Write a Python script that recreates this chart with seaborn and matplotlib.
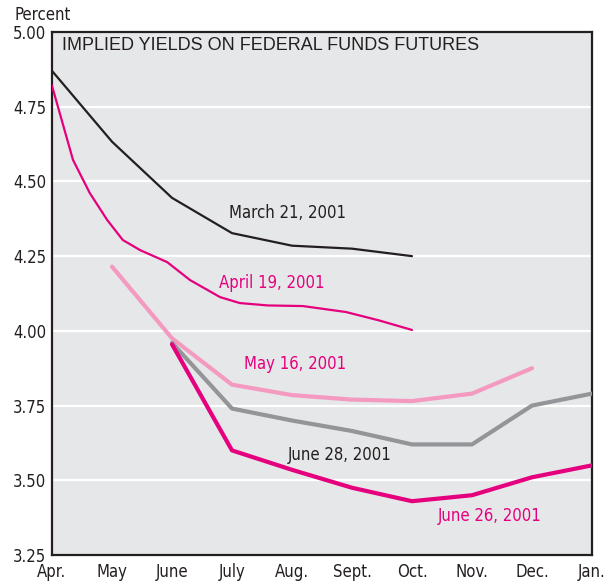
import numpy as np
import pandas as pd
import matplotlib
matplotlib.use("Agg")
import matplotlib.pyplot as plt
import seaborn as sns

months = ["Apr.", "May", "June", "July", "Aug.", "Sept.", "Oct.", "Nov.", "Dec.", "Jan."]

mar21 = [4.87, 4.633, 4.445, 4.327, 4.285, 4.275, 4.25]

# April 19 curve is drawn smooth in the source
apr19_x = [0.0, 0.35, 0.63, 0.92, 1.18, 1.47, 1.92, 2.3, 2.8, 3.13, 3.6, 4.18, 4.9, 5.45, 6.0]
apr19 = [4.82, 4.572, 4.461, 4.371, 4.304, 4.27, 4.23, 4.17, 4.113, 4.093, 4.085, 4.083, 4.063, 4.035, 4.003]

may16 = [4.215, 3.975, 3.82, 3.785, 3.77, 3.765, 3.79, 3.875]
jun28 = [3.96, 3.74, 3.70, 3.665, 3.62, 3.62, 3.75, 3.79]
jun26 = [3.955, 3.60, 3.535, 3.475, 3.43, 3.45, 3.51, 3.55]

series = [
    ("March 21, 2001", np.arange(len(mar21)), mar21, "#231f20", 1.6),
    ("April 19, 2001", apr19_x, apr19, "#e5007e", 1.6),
    ("May 16, 2001", np.arange(1, 1 + len(may16)), may16, "#f49ac1", 3.0),
    ("June 28, 2001", np.arange(2, 2 + len(jun28)), jun28, "#939598", 3.0),
    ("June 26, 2001", np.arange(2, 2 + len(jun26)), jun26, "#e5007e", 3.0),
]

# label placement (x in month index, y in percent)
label_pos = {
    "March 21, 2001": (3.93, 4.395, "#231f20"),
    "April 19, 2001": (3.67, 4.16, "#e5007e"),
    "May 16, 2001": (4.05, 3.89, "#e5007e"),
    "June 28, 2001": (4.8, 3.585, "#231f20"),
    "June 26, 2001": (7.3, 3.38, "#e5007e"),
}

sns.set_style("white")
plt.rcParams["font.family"] = ["DejaVu Sans"]
plt.rcParams["font.stretch"] = "condensed"

fig = plt.figure(figsize=(6.11, 5.82), dpi=100)
ax = fig.add_axes([52 / 611, 27 / 582, 540 / 611, 523 / 582])
ax.set_facecolor("#e6e7e8")

for name, xs, vals, color, lw in series:
    df = pd.DataFrame({"x": xs, "y": vals})
    sns.lineplot(data=df, x="x", y="y", ax=ax, color=color, lw=lw, zorder=3, sort=False)

for name, (lx, ly, c) in label_pos.items():
    ax.text(lx, ly, name, color=c, fontsize=12, ha="center", va="center")

ax.set_xlim(0, 9)
ax.set_ylim(3.25, 5.0)
ax.set_xticks(range(len(months)))
ax.set_xticklabels(months, fontsize=12)
yt = [3.25, 3.5, 3.75, 4.0, 4.25, 4.5, 4.75, 5.0]
ax.set_yticks(yt)
ax.set_yticklabels([f"{v:.2f}" for v in yt], fontsize=12)
for v in yt[1:-1]:
    ax.axhline(v, color="white", lw=1.6, zorder=1)
ax.tick_params(axis="both", direction="in", length=12, width=1.5, color="#231f20",
               labelcolor="#231f20", pad=6)
ax.tick_params(axis="y", pad=4)
ax.set_xlabel("")
ax.set_ylabel("")
for s in ax.spines.values():
    s.set_color("#231f20")
    s.set_linewidth(1.6)

ax.text(10 / 540, 1 - 14 / 523, "IMPLIED YIELDS ON FEDERAL FUNDS FUTURES",
        transform=ax.transAxes, fontsize=13, family=["Liberation Sans", "DejaVu Sans"],
        stretch="normal", color="#231f20", va="center", ha="left")
fig.text(14 / 611, 1 - 15 / 582, "Percent", fontsize=12, color="#231f20", va="center")

fig.savefig("out.png", dpi=100)
